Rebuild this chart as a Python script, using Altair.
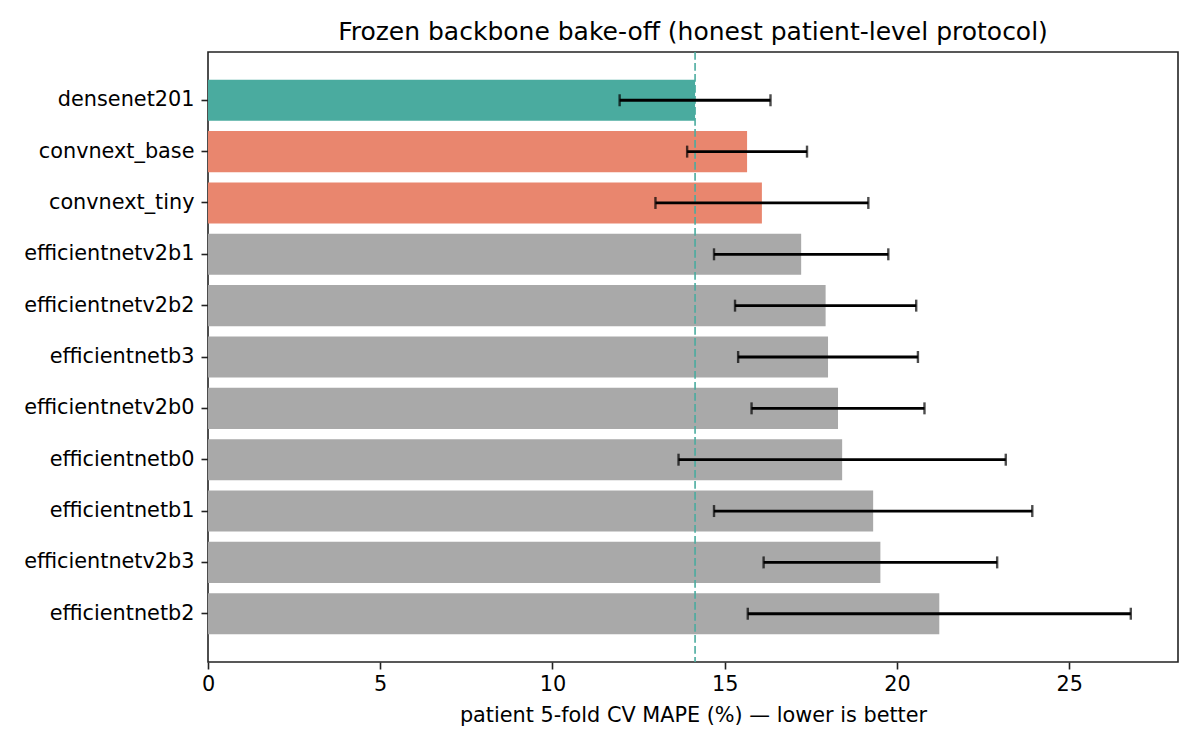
import altair as alt
import pandas as pd

# Frozen-backbone comparison: patient-level 5-fold CV MAPE (mean ± sd)
models = [
    "densenet201", "convnext_base", "convnext_tiny", "efficientnetv2b1",
    "efficientnetv2b2", "efficientnetb3", "efficientnetv2b0", "efficientnetb0",
    "efficientnetb1", "efficientnetv2b3", "efficientnetb2",
]
mape_mean = [14.14, 15.65, 16.08, 17.22, 17.93, 18.00, 18.29, 18.41, 19.31, 19.52, 21.23]
mape_sd = [2.19, 1.74, 3.09, 2.53, 2.63, 2.61, 2.51, 4.75, 4.62, 3.39, 5.56]
groups = ["best", "convnext", "convnext"] + ["other"] * 8

group_names = ["best", "convnext", "other"]
group_colors = ["#4aab9f", "#e9866e", "#a9a9a9"]

df = pd.DataFrame({"model": models, "mape": mape_mean, "sd": mape_sd, "group": groups})
df["lo"] = df["mape"] - df["sd"]
df["hi"] = df["mape"] + df["sd"]
best = df[df["group"] == "best"][["mape"]]

FONT = "DejaVu Sans"
x_scale = alt.Scale(domain=[0, 28.16], nice=False, zero=False)
y_enc = alt.Y(
    "model:N",
    sort=models,
    title=None,
    scale=alt.Scale(paddingInner=0.2, paddingOuter=0.54),
    axis=alt.Axis(labelFontSize=20.8, labelColor="black", tickSize=7, tickColor="#222",
                  tickWidth=1.6, labelPadding=7, domain=False, labelFont=FONT),
)

bars = alt.Chart(df).mark_bar().encode(
    x=alt.X(
        "mape:Q",
        scale=x_scale,
        title="patient 5-fold CV MAPE (%) — lower is better",
        axis=alt.Axis(values=[0, 5, 10, 15, 20, 25], grid=False, tickSize=7, tickColor="#222",
                      tickWidth=1.6, labelFontSize=20.8, labelColor="black", labelPadding=5,
                      labelFlush=False,
                      titleFontSize=20.8, titleFontWeight="normal", titleColor="black",
                      titlePadding=12, domain=False, labelFont=FONT, titleFont=FONT),
    ),
    y=y_enc,
    color=alt.Color("group:N", scale=alt.Scale(domain=group_names, range=group_colors), legend=None),
)

best_line = alt.Chart(best).mark_rule(
    color="#4aab9f", strokeWidth=1.6, strokeDash=[7.7, 3.3]
).encode(x=alt.X("mape:Q", scale=x_scale))

err = alt.Chart(df).mark_rule(color="black", strokeWidth=2.8).encode(
    x=alt.X("lo:Q", scale=x_scale), x2="hi:Q", y=alt.Y("model:N", sort=models)
)
cap_lo = alt.Chart(df).mark_tick(color="black", thickness=2.4, size=12, orient="vertical").encode(
    x=alt.X("lo:Q", scale=x_scale), y=alt.Y("model:N", sort=models)
)
cap_hi = alt.Chart(df).mark_tick(color="black", thickness=2.4, size=12, orient="vertical").encode(
    x=alt.X("hi:Q", scale=x_scale), y=alt.Y("model:N", sort=models)
)

chart = (
    alt.layer(bars, best_line, err, cap_lo, cap_hi)
    .properties(
        width=970,
        height=610,
        title=alt.TitleParams(
            "Frozen backbone bake-off (honest patient-level protocol)",
            fontSize=25, font=FONT, fontWeight="normal", color="black", anchor="middle", offset=6,
        ),
        autosize=alt.AutoSizeParams(type="none"),
        padding={"left": 208, "top": 52, "right": 22, "bottom": 88},
    )
    .configure(background="white")
    .configure_view(stroke="#222", strokeWidth=1.6)
)

chart.save("out.html", embed_options={"renderer": "svg", "actions": False})
